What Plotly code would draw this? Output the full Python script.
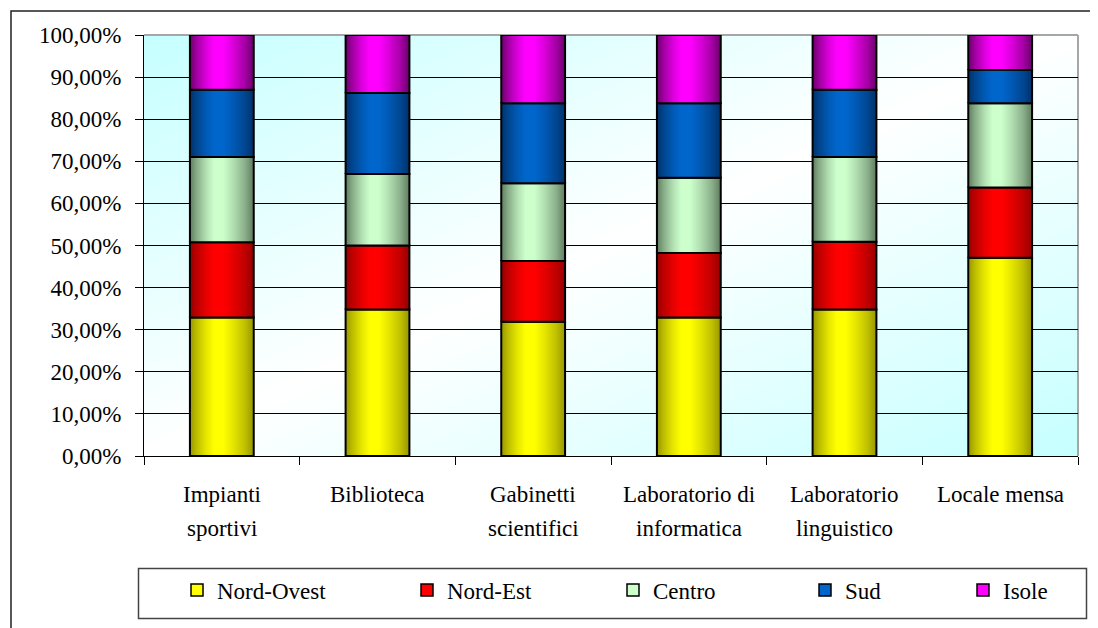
import base64
import plotly.graph_objects as go

# ---------------- data ----------------
categories = ["Impianti sportivi", "Biblioteca", "Gabinetti scientifici",
              "Laboratorio di informatica", "Laboratorio linguistico", "Locale mensa"]
label_line1 = ["Impianti", "Biblioteca", "Gabinetti", "Laboratorio di", "Laboratorio", "Locale mensa"]
label_line2 = ["sportivi", "", "scientifici", "informatica", "linguistico", ""]

series_names = ["Nord-Ovest", "Nord-Est", "Centro", "Sud", "Isole"]
nord_ovest = [32.9, 34.8, 31.9, 32.9, 34.8, 47.1]
nord_est = [17.9, 15.2, 14.4, 15.3, 16.1, 16.7]
centro = [20.2, 17.0, 18.5, 17.9, 20.1, 20.0]
sud = [16.0, 19.2, 19.0, 17.7, 16.0, 7.9]
isole = [13.0, 13.8, 16.2, 16.2, 13.0, 8.3]
y_ticks = [0, 10, 20, 30, 40, 50, 60, 70, 80, 90, 100]
y_tick_text = [f"{v:.2f}".replace(".", ",") + "%" for v in y_ticks]

series_values = [nord_ovest, nord_est, centro, sud, isole]
edge_colors = ["#969600", "#960000", "#5f7c5f", "#00316a", "#6a006a"]
center_colors = ["#ffff00", "#ff0000", "#ccffcc", "#0066cc", "#ff00ff"]

# ---------------- geometry helpers (layout only) ----------------
OFF = 8                      # page body margin of the html page (left/top)
W, H = 1098 - OFF, 628 - OFF
ML, MR, MT, MB = 144 - OFF, 20, 35 - OFF, 172
PW, PH = W - ML - MR, H - MT - MB
FONT = "Liberation Serif"
FSIZE = 23


def px_x(px):               # reference-image pixel -> paper x
    return (px - OFF - ML) / PW


def px_y(py):               # reference-image pixel -> paper y
    return (H - MB - (py - OFF)) / PH


def hex2rgb(h):
    h = h.lstrip("#")
    return tuple(int(h[i:i + 2], 16) for i in (0, 2, 4))


def mix(c1, c2, t):
    a, b = hex2rgb(c1), hex2rgb(c2)
    return "rgb(%d,%d,%d)" % tuple(round(a[i] + (b[i] - a[i]) * t) for i in range(3))


BAR_W = 0.41
fig = go.Figure()

# stacked segments as filled rectangles with a horizontal gradient
n_cat = len(categories)
running = [0.0] * n_cat
for s, vals in enumerate(series_values):
    e, c = edge_colors[s], center_colors[s]
    cscale = [[0.0, e], [0.1, mix(e, c, 0.35)], [0.25, mix(e, c, 0.75)], [0.38, c],
              [0.52, c], [0.68, mix(e, c, 0.75)], [0.86, mix(e, c, 0.4)], [1.0, e]]
    for i in range(n_cat):
        b, v = running[i], vals[i]
        xs = [i - BAR_W / 2, i + BAR_W / 2, i + BAR_W / 2, i - BAR_W / 2, i - BAR_W / 2]
        ys = [b, b, b + v, b + v, b]
        fig.add_trace(go.Scatter(
            x=xs, y=ys, mode="lines", fill="toself",
            fillgradient=dict(type="horizontal", colorscale=cscale),
            line=dict(color="black", width=2),
            showlegend=False, name=series_names[s],
            hoveron="fills", text=f"{categories[i]}<br>{series_names[s]}: {v:.2f}%",
            hoverinfo="text"))
    running = [r + v for r, v in zip(running, vals)]

# legend entries (one legend per entry, to place them like the original)
legend_sym_px = [177, 407, 613, 805, 963]
legend_keys = ["legend", "legend2", "legend3", "legend4", "legend5"]
for s in range(len(series_names)):
    fig.add_trace(go.Bar(
        x=[None], y=[None], name=series_names[s],
        marker=dict(color=center_colors[s], line=dict(color="black", width=1.5)),
        legend=legend_keys[s], showlegend=True))

legend_layouts = {}
for s, key in enumerate(legend_keys):
    legend_layouts[key] = dict(
        x=px_x(legend_sym_px[s]), y=px_y(590), xanchor="left", yanchor="middle",
        bgcolor="rgba(0,0,0,0)", borderwidth=0,
        font=dict(family=FONT, size=FSIZE, color="black"))

# category labels (two rows, Excel-like line spacing)
annotations = []
for i, cat in enumerate(categories):
    for line, shift in ((label_line1[i], -38), (label_line2[i], -72)):
        if line:
            annotations.append(dict(
                x=i, xref="x", y=0, yref="paper", yanchor="middle", yshift=shift,
                text=line, showarrow=False,
                font=dict(family=FONT, size=FSIZE, color="black")))

# background gradient of the plot area
svg = ('<svg xmlns="http://www.w3.org/2000/svg" width="200" height="100" viewBox="0 0 200 100" '
       'preserveAspectRatio="none"><defs><linearGradient id="g" x1="0" y1="0" x2="1" y2="1">'
       '<stop offset="0" stop-color="#c6ffff"/><stop offset="0.5" stop-color="#ffffff"/>'
       '<stop offset="1" stop-color="#c6ffff"/></linearGradient></defs>'
       '<rect width="200" height="100" fill="url(#g)"/></svg>')
svg_uri = "data:image/svg+xml;base64," + base64.b64encode(svg.encode()).decode()

shapes = [
    dict(type="line", xref="paper", yref="paper", x0=0, x1=1, y0=1, y1=1,
         line=dict(color="#a6a6a6", width=2), layer="between"),
    dict(type="line", xref="paper", yref="paper", x0=1, x1=1, y0=0, y1=1,
         line=dict(color="#a6a6a6", width=2), layer="between"),
    dict(type="rect", xref="paper", yref="paper",
         x0=px_x(11), x1=px_x(1130), y0=px_y(660), y1=px_y(11),
         line=dict(color="#222222", width=1.5), layer="above"),
    dict(type="rect", xref="paper", yref="paper",
         x0=px_x(138.5), x1=px_x(1086.5), y0=px_y(618.5), y1=px_y(568.5),
         line=dict(color="#444444", width=1.5), layer="above"),
]

fig.update_layout(
    width=W, height=H,
    margin=dict(l=ML, r=MR, t=MT, b=MB, pad=0),
    paper_bgcolor="white", plot_bgcolor="rgba(0,0,0,0)",
    font=dict(family=FONT, size=FSIZE, color="black"),
    images=[dict(source=svg_uri, xref="paper", yref="paper", x=0, y=1, sizex=1, sizey=1,
                 xanchor="left", yanchor="top", sizing="stretch", layer="below")],
    shapes=shapes, annotations=annotations,
    hovermode="closest",
    **legend_layouts,
)

boundaries = [k - 0.5 for k in range(n_cat + 1)]
fig.update_xaxes(range=[-0.5, n_cat - 0.5], tickmode="array", tickvals=boundaries,
                 showticklabels=False, ticks="outside",
                 ticklen=8, tickcolor="black", tickwidth=1,
                 showline=True, linecolor="black", linewidth=1, showgrid=False, zeroline=False)
fig.update_yaxes(range=[0, 100], tickmode="array", tickvals=y_ticks, ticktext=y_tick_text,
                 ticks="outside", ticklen=8, tickcolor="black", tickwidth=1,
                 ticklabelstandoff=9,
                 showgrid=True, gridcolor="black", gridwidth=1, zeroline=False,
                 showline=True, linecolor="black", linewidth=1,
                 tickfont=dict(family=FONT, size=FSIZE, color="black"))

fig.write_html("out.html")
